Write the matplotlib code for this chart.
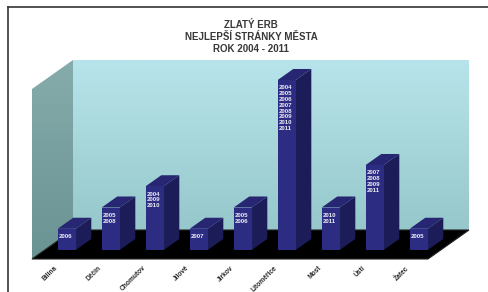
import numpy as np
import matplotlib.pyplot as plt
from matplotlib.patches import Polygon
from matplotlib.colors import LinearSegmentedColormap

plt.rcParams['font.family'] = ['Liberation Sans', 'DejaVu Sans']

# data
mesta = ["Bílina", "Děčín", "Chomutov", "Jílové", "Jirkov",
         "Litoměřice", "Most", "Ústí", "Žatec"]
pocet = [1, 2, 3, 1, 2, 8, 2, 4, 1]
roky = [["2006"],
        ["2005", "2008"],
        ["2004", "2009", "2010"],
        ["2007"],
        ["2005", "2006"],
        ["2004", "2005", "2006", "2007", "2008", "2009", "2010", "2011"],
        ["2010", "2011"],
        ["2007", "2008", "2009", "2011"],
        ["2005"]]
titulek = "ZLATÝ ERB\nNEJLEPŠÍ STRÁNKY MĚSTA\nROK 2004 - 2011"
zmax = 8

# oblique "3D" look: full depth shifts by DX categories and DY value units
DX, DY = 41 / 44, 29 / 21.25
d0, d1 = 0.31, 0.69      # bar front / back depth
sirka = 0.41
n = len(mesta)

def p(x, z, d):
    return (x + d * DX, z + d * DY)

fig = plt.figure(figsize=(4.89, 2.92), dpi=100)
ax = fig.add_axes([0, 0, 1, 1])
ax.axis('off')

# back wall with gradient
zadni = LinearSegmentedColormap.from_list("zadni", ["#96c8cb", "#b7e4ea"])
ax.imshow(np.linspace(0, 1, 100).reshape(-1, 1), cmap=zadni, origin='lower',
          aspect='auto', extent=[DX, n + DX, DY, zmax + DY], zorder=1)
# left wall with gradient
leva = LinearSegmentedColormap.from_list("leva", ["#6a9393", "#86abab"])
im2 = ax.imshow(np.linspace(0, 1, 100).reshape(-1, 1), cmap=leva, origin='lower',
                aspect='auto', extent=[0, DX, 0, zmax + DY], zorder=1)
poly = Polygon([p(0, 0, 0), p(0, 0, 1), p(0, zmax, 1), p(0, zmax, 0)],
               closed=True, facecolor='none', edgecolor='none')
ax.add_patch(poly)
im2.set_clip_path(poly)
ax.set_xlim(-32 / 44, 457 / 44)
ax.set_ylim((259 - 292) / 21.25, 259 / 21.25)

# floor
ax.add_patch(Polygon([p(0, 0, 0), p(n, 0, 0), p(n, 0, 1), p(0, 0, 1)],
                     closed=True, facecolor='black', edgecolor='#222222',
                     lw=0.8, zorder=2))

# bars
x = np.arange(n) + 0.5 - sirka / 2
ax.bar(x + d0 * DX, pocet, sirka, bottom=d0 * DY, align='edge',
       color='#2c2c82', zorder=4)
for xi, h in zip(x, pocet):
    bok = [p(xi + sirka, 0, d0), p(xi + sirka, 0, d1),
           p(xi + sirka, h, d1), p(xi + sirka, h, d0)]
    ax.add_patch(Polygon(bok, closed=True, facecolor='#1c1c58', zorder=3))
    vrch = [p(xi, h, d0), p(xi + sirka, h, d0),
            p(xi + sirka, h, d1), p(xi, h, d1)]
    ax.add_patch(Polygon(vrch, closed=True, facecolor='#262673', zorder=3))

for xi, h, r in zip(x, pocet, roky):
    tx, ty = p(xi + 0.02, h - 0.25, d0)
    ax.text(tx, ty, "\n".join(r), color='#eeeef6', fontsize=4.4,
            fontweight='bold', ha='left', va='top', linespacing=1.2, zorder=5)

# category labels
for i, m in enumerate(mesta):
    ax.text(i + 0.5, -0.27, m, rotation=45, rotation_mode='anchor',
            ha='right', va='top', fontsize=4.8, fontweight='bold',
            color='#2a2a2a')

fig.text(0.514, 0.93, titulek, ha='center', va='top', fontsize=7,
         fontweight='bold', color='#383838', linespacing=1.2)

# outer frame (cut at right and bottom)
fig.add_artist(plt.Line2D([8 / 489, 8 / 489], [0, 1 - 7 / 292],
                          color='#333333', lw=1.2))
fig.add_artist(plt.Line2D([8 / 489, 1], [1 - 7 / 292, 1 - 7 / 292],
                          color='#333333', lw=1.2))

fig.savefig("out.png", dpi=100)
